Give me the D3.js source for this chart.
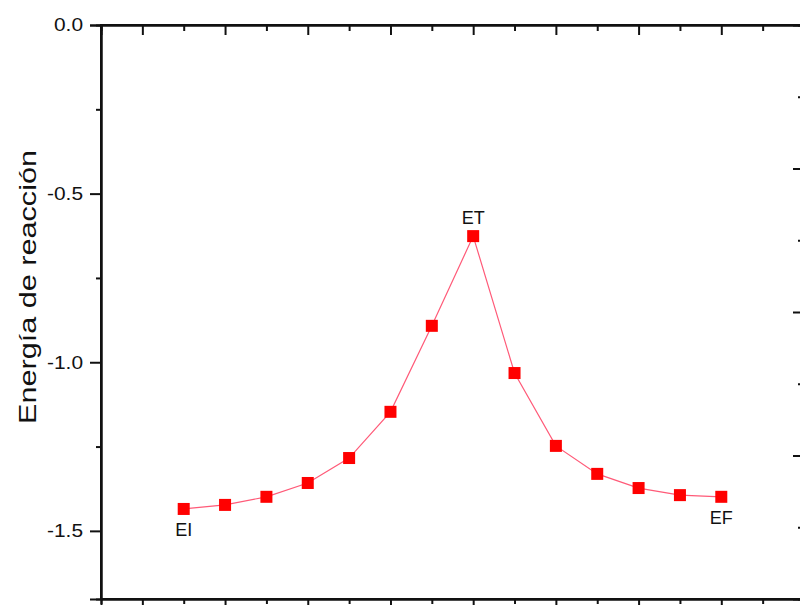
<!DOCTYPE html>
<html>
<head>
<meta charset="utf-8">
<script src="https://cdn.jsdelivr.net/npm/d3@7"></script>
<style>
  html, body { margin: 0; padding: 0; background: #fff; }
  svg { display: block; }
  text { font-family: Arial, "Liberation Sans", sans-serif; fill: #111; }
</style>
</head>
<body>
<svg id="chart" width="800" height="605"></svg>
<script>
// Reaction-coordinate steps and the energy at each step
const steps = [2, 3, 4, 5, 6, 7, 8, 9, 10, 11, 12, 13, 14, 15];
const energy = [-1.435, -1.423, -1.399, -1.358, -1.284, -1.147, -0.892,
                -0.626, -1.032, -1.248, -1.331, -1.373, -1.394, -1.399];

// Labelled states: initial, transition, final
const stateLabels = [
  { step: 2,  text: "EI", pos: "below" },
  { step: 9,  text: "ET", pos: "above" },
  { step: 15, text: "EF", pos: "below" }
];

const yTickValues = [0.0, -0.5, -1.0, -1.5];
const yTickLabels = ["0.0", "-0.5", "-1.0", "-1.5"];
const yMinorValues = [-0.25, -0.75, -1.25];
const yTitle = "Energía de reacción";

const svg = d3.select("#chart");
const plotL = 101, plotR = 804, plotT = 25, plotB = 599;

const x = d3.scaleLinear().domain([0, 17]).range([plotL, plotR]);
const y = d3.scaleLinear().domain([0, -1.702]).range([plotT, plotB]);
// secondary scale on the mirrored right axis
const y2 = d3.scaleLinear().domain([0, 4]).range([plotT, plotB]);

const xMajor = d3.range(1, 17, 2);
const xMinor = d3.range(2, 17, 2);

const g = svg.append("g");

// frame
g.append("rect")
  .attr("x", plotL).attr("y", plotT)
  .attr("width", plotR - plotL).attr("height", plotB - plotT)
  .attr("fill", "none").attr("stroke", "#111").attr("stroke-width", 2);

// bottom axis: ticks outward
const bottomAxis = g.append("g").attr("transform", `translate(0,${plotB})`);
bottomAxis.call(d3.axisBottom(x).tickValues(xMajor).tickSize(9).tickFormat(""));
bottomAxis.append("g").call(d3.axisBottom(x).tickValues(xMinor).tickSize(5).tickFormat(""));

// top axis: ticks inward
const topAxis = g.append("g").attr("transform", `translate(0,${plotT})`);
topAxis.call(d3.axisBottom(x).tickValues(xMajor).tickSize(10).tickFormat(""));
topAxis.append("g").call(d3.axisBottom(x).tickValues(xMinor).tickSize(6).tickFormat(""));

// left axis: ticks outward with labels
const leftAxis = g.append("g").attr("transform", `translate(${plotL},0)`);
leftAxis.call(d3.axisLeft(y).tickValues(yTickValues).tickSize(11).tickPadding(7)
  .tickFormat((d, i) => yTickLabels[i]));
leftAxis.append("g").call(d3.axisLeft(y).tickValues(yMinorValues).tickSize(5).tickFormat(""));
leftAxis.selectAll("text")
  .style("font-size", "18px")
  .style("font-family", "Arial, 'Liberation Sans', sans-serif")
  .attr("fill", "#111")
  .each(function () {
    // labels are set slightly wide
    const w = this.getComputedTextLength();
    d3.select(this).attr("textLength", w * 1.16).attr("lengthAdjust", "spacingAndGlyphs");
  });

// right axis: ticks inward
const rightAxis = g.append("g").attr("transform", `translate(${plotR},0)`);
rightAxis.call(d3.axisLeft(y2).tickValues([1, 2, 3]).tickSize(11).tickFormat(""));
rightAxis.append("g").call(d3.axisLeft(y2).tickValues([0.5, 1.5, 2.5, 3.5]).tickSize(6).tickFormat(""));

g.selectAll(".domain").attr("stroke", "#111").attr("stroke-width", 2);
g.selectAll(".tick line").attr("stroke", "#111").attr("stroke-width", 2);

// y title
svg.append("text")
  .attr("transform", `translate(36,287) rotate(-90)`)
  .attr("text-anchor", "middle")
  .style("font-size", "24px")
  .attr("textLength", 274)
  .attr("lengthAdjust", "spacingAndGlyphs")
  .text(yTitle);

// data
const pts = steps.map((s, i) => ({ s, e: energy[i] }));

svg.append("path")
  .datum(pts)
  .attr("fill", "none")
  .attr("stroke", "#ff5a78")
  .attr("stroke-width", 1.2)
  .attr("d", d3.line().x(d => x(d.s)).y(d => y(d.e)));

const ms = 12;
svg.selectAll("rect.pt")
  .data(pts)
  .enter().append("rect")
  .attr("class", "pt")
  .attr("x", d => x(d.s) - ms / 2)
  .attr("y", d => y(d.e) - ms / 2)
  .attr("width", ms).attr("height", ms)
  .attr("fill", "#ff0000");

// state labels
svg.selectAll("text.state")
  .data(stateLabels)
  .enter().append("text")
  .attr("class", "state")
  .attr("text-anchor", "middle")
  .style("font-size", "18px")
  .attr("x", d => x(d.step))
  .attr("y", d => {
    const e = energy[steps.indexOf(d.step)];
    return d.pos === "above" ? y(e) - 12 : y(e) + 27;
  })
  .text(d => d.text);
</script>
</body>
</html>
